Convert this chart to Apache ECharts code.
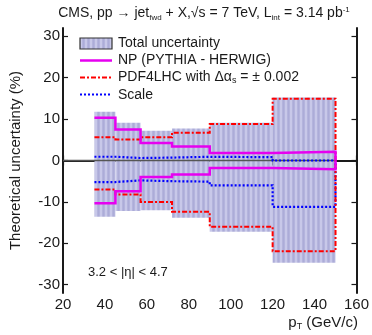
<!DOCTYPE html>
<html>
<head>
<meta charset="utf-8">
<script src="https://cdn.jsdelivr.net/npm/echarts@6/dist/echarts.min.js"></script>
<style>
  html, body { margin: 0; padding: 0; background: #fff; }
  #chart { width: 372px; height: 335px; }
</style>
</head>
<body>
<div id="chart"></div>
<script>
// Bin edges in pT (GeV/c) and relative uncertainties (%) per bin
const ptEdges   = [35, 45, 57, 72, 90, 120, 150];
const totalUp   = [11.8, 9.1, 7.2, 7.7, 9.1, 15.2];
const totalDown = [-13.6, -12.2, -12.0, -13.8, -17.2, -24.7];
const npUp      = [10.3, 7.5, 4.2, 3.4, 1.8, 2.1];
const npDown    = [-10.3, -7.4, -4.0, -3.4, -1.8, -2.1];
const pdfUp     = [5.6, 5.1, 5.6, 6.7, 8.8, 14.9];
const pdfDown   = [-7.0, -8.2, -10.0, -12.4, -16.0, -21.9];
const scaleUp   = [0.9, 0.6, 0.7, 0.9, 0.8, 0.0];
const scaleDown = [-5.2, -4.8, -5.0, -5.1, -6.0, -11.2];
const xTicks = [20, 40, 60, 80, 100, 120, 140, 160];
const yTicks = [-30, -20, -10, 0, 10, 20, 30];

const FONT = '"Liberation Sans", Arial, sans-serif';

// Vertical hatch pattern for the total-uncertainty band
function hatch() {
  const c = document.createElement('canvas');
  c.width = 5; c.height = 4;
  const g = c.getContext('2d');
  g.fillStyle = '#b4b4dd'; g.fillRect(0, 0, 5, 4);
  g.fillStyle = '#c8c8e9'; g.fillRect(0, 0, 2, 4);
  g.fillStyle = '#acacd8'; g.fillRect(3, 0, 1, 4);
  return { image: c, repeat: 'repeat' };
}
const bandFill = hatch();

// Histogram-style step outline, closing down to zero at the last edge
function steps(vals) {
  const pts = [];
  for (let i = 0; i < vals.length; i++) {
    pts.push([ptEdges[i], vals[i]]);
    pts.push([ptEdges[i + 1], vals[i]]);
  }
  pts.push([ptEdges[ptEdges.length - 1], 0]);
  return pts;
}

const bandData = totalUp.map((u, i) => [ptEdges[i], ptEdges[i + 1], totalDown[i], u]);

function lineSeries(name, vals, color, width, dash) {
  return {
    name: name, type: 'line', data: steps(vals), symbol: 'none',
    xAxisIndex: 0, yAxisIndex: 0, z: 4, silent: true,
    lineStyle: { color: color, width: width, type: dash, cap: 'butt', join: 'miter' }
  };
}

const chart = echarts.init(document.getElementById('chart'), null, { renderer: 'canvas' });

const option = {
  animation: false,
  textStyle: { fontFamily: FONT },
  grid: { left: 58, right: 13, top: 28, bottom: 42 },
  xAxis: [{
    type: 'value', min: 20, max: 160, interval: 20, position: 'bottom',
    axisLine: { lineStyle: { color: '#1a1a1a', width: 2 } },
    axisTick: { inside: true, length: 5, lineStyle: { color: '#1a1a1a', width: 1.2 } },
    axisLabel: { color: '#1a1a1a', fontSize: 15, fontFamily: FONT, margin: 4 },
    splitLine: { show: false }
  }, {
    type: 'value', min: 20, max: 160, interval: 20, position: 'top',
    axisLine: { lineStyle: { color: '#1a1a1a', width: 1.2 } },
    axisTick: { inside: true, length: 5, lineStyle: { color: '#1a1a1a', width: 1.2 } },
    axisLabel: { show: false },
    splitLine: { show: false }
  }],
  yAxis: [{
    type: 'value', min: -32, max: 32, position: 'left',
    name: 'Theoretical uncertainty (%)', nameLocation: 'middle', nameGap: 40,
    nameTextStyle: { color: '#1a1a1a', fontSize: 15, fontFamily: FONT },
    axisLine: { lineStyle: { color: '#1a1a1a', width: 2 } },
    axisTick: { inside: true, length: 5, customValues: yTicks, lineStyle: { color: '#1a1a1a', width: 1.2 } },
    axisLabel: { color: '#1a1a1a', fontSize: 15, fontFamily: FONT, margin: 3, customValues: yTicks },
    splitLine: { show: false }
  }, {
    type: 'value', min: -32, max: 32, position: 'right',
    axisLine: { show: true, lineStyle: { color: '#1a1a1a', width: 2 } },
    axisTick: { inside: true, length: 5, customValues: yTicks, lineStyle: { color: '#1a1a1a', width: 1.2 } },
    axisLabel: { show: false },
    splitLine: { show: false }
  }],
  series: [
    {
      name: 'Total uncertainty', type: 'custom', data: bandData, z: 2, silent: true,
      xAxisIndex: 0, yAxisIndex: 0,
      renderItem: function (params, api) {
        const p0 = api.coord([api.value(0), api.value(3)]);
        const p1 = api.coord([api.value(1), api.value(2)]);
        return {
          type: 'rect',
          shape: { x: p0[0], y: p0[1], width: p1[0] - p0[0], height: p1[1] - p0[1] },
          style: { fill: bandFill, stroke: null }
        };
      }
    },
    {
      name: 'zero', type: 'line', data: [[20, 0], [150, 0]], symbol: 'none', z: 3, silent: true,
      lineStyle: { color: '#555', width: 1.5 }
    },
    lineSeries('Scale up', scaleUp, '#0000ff', 2.2, [2, 2]),
    lineSeries('Scale down', scaleDown, '#0000ff', 2.2, [2, 2]),
    lineSeries('PDF up', pdfUp, '#ff0000', 2, [5, 2, 2, 2]),
    lineSeries('PDF down', pdfDown, '#ff0000', 2, [5, 2, 2, 2]),
    lineSeries('NP up', npUp, '#e600f0', 2.5, 'solid'),
    lineSeries('NP down', npDown, '#e600f0', 2.5, 'solid')
  ],
  graphic: [
    {
      type: 'text', z: 10,
      style: {
        x: 204, y: 13, textAlign: 'center', textVerticalAlign: 'middle',
        text: 'CMS, pp → jet{sub|fwd} + X,√s = 7 TeV, L{sub|int} = 3.14 pb{sup|-1}',
        font: '14px ' + FONT, fill: '#1a1a1a',
        rich: {
          sub: { fontSize: 8, fontFamily: FONT, fill: '#1a1a1a', padding: [9, 0, 0, 0] },
          sup: { fontSize: 8, fontFamily: FONT, fill: '#1a1a1a', padding: [0, 0, 7, 0] }
        }
      }
    },
    // legend
    { type: 'rect', shape: { x: 80, y: 38, width: 32, height: 11 }, style: { fill: bandFill, stroke: '#333', lineWidth: 1.2 }, z: 10 },
    { type: 'text', style: { x: 118, y: 43, text: 'Total uncertainty', font: '14px ' + FONT, fill: '#1a1a1a', textVerticalAlign: 'middle' }, z: 10 },
    { type: 'line', shape: { x1: 80, y1: 60.5, x2: 112, y2: 60.5 }, style: { stroke: '#e600f0', lineWidth: 2.5 }, z: 10 },
    { type: 'text', style: { x: 118, y: 60, text: 'NP (PYTHIA - HERWIG)', font: '14px ' + FONT, fill: '#1a1a1a', textVerticalAlign: 'middle' }, z: 10 },
    { type: 'line', shape: { x1: 80, y1: 77.5, x2: 112, y2: 77.5 }, style: { stroke: '#ff0000', lineWidth: 2, lineDash: [5, 2, 2, 2] }, z: 10 },
    {
      type: 'text', z: 10,
      style: {
        x: 118, y: 77, text: 'PDF4LHC with Δα{sub|s} = ± 0.002', font: '14px ' + FONT, fill: '#1a1a1a', textVerticalAlign: 'middle',
        rich: { sub: { fontSize: 9, fontFamily: FONT, fill: '#1a1a1a', padding: [7, 0, 0, 0] } }
      }
    },
    { type: 'line', shape: { x1: 80, y1: 94.5, x2: 112, y2: 94.5 }, style: { stroke: '#0000ff', lineWidth: 2.2, lineDash: [2, 2] }, z: 10 },
    { type: 'text', style: { x: 118, y: 95, text: 'Scale', font: '14px ' + FONT, fill: '#1a1a1a', textVerticalAlign: 'middle' }, z: 10 },
    // pseudorapidity range
    { type: 'text', style: { x: 88, y: 272, text: '3.2 < |η| < 4.7', font: '13px ' + FONT, fill: '#1a1a1a', textVerticalAlign: 'middle' }, z: 10 },
    // x axis title
    {
      type: 'text', z: 10,
      style: {
        x: 358, y: 323, text: 'p{sub|T} (GeV/c)', font: '15px ' + FONT, fill: '#1a1a1a',
        textAlign: 'right', textVerticalAlign: 'middle',
        rich: { sub: { fontSize: 9, fontFamily: FONT, fill: '#1a1a1a', padding: [8, 0, 0, 0] } }
      }
    }
  ]
};
chart.setOption(option);
</script>
</body>
</html>
